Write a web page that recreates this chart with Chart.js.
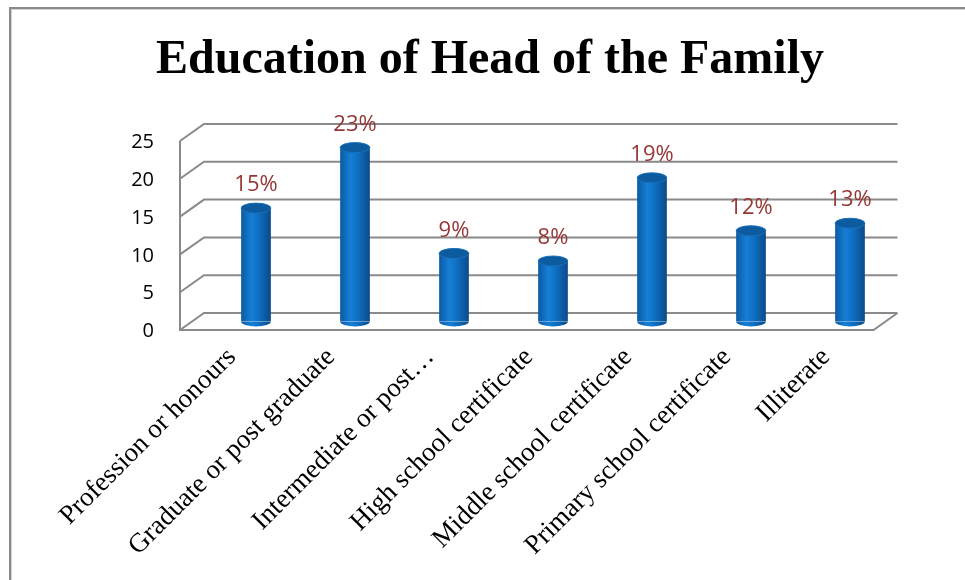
<!DOCTYPE html>
<html lang="en">
<head>
<meta charset="UTF-8">
<title>Education of Head of the Family</title>
<script src="https://cdn.jsdelivr.net/npm/chart.js"></script>
<style>
  body { margin: 0; background: #fff; }
  .wrap { position: relative; width: 965px; height: 580px; overflow: hidden; }
  .frame { position: absolute; left: 9px; top: 7px; width: 1000px; height: 620px;
           border: 2px solid #8a8a8a; box-shadow: inset 1px 1px 0 #d4d4d4; }
  canvas { position: absolute; left: 0; top: 0; }
</style>
</head>
<body>
<div class="wrap">
  <div class="frame"></div>
  <canvas id="eduChart" width="965" height="580"></canvas>
</div>
<script>
const categories = [
  'Profession or honours',
  'Graduate or post graduate',
  'Intermediate or post…',
  'High school certificate',
  'Middle school certificate',
  'Primary school certificate',
  'Illiterate'
];
const shares = [15, 23, 9, 8, 19, 12, 13];
const yMax = 25;
const yStep = 5;

// depth of the 3d box, half on each side of the bar plane
const DX = 12, DY = 8.5;
const BAR_PCT = 0.3;
const GRID = '#8a8a8a';

function cylinderFill(c) {
  const chart = c.chart;
  const a = chart.chartArea;
  if (!a) return '#0b6cbf';
  const cx = chart.scales.x.getPixelForValue(c.dataIndex);
  const w = (a.right - a.left) / categories.length * BAR_PCT;
  const g = chart.ctx.createLinearGradient(cx - w / 2, 0, cx + w / 2, 0);
  g.addColorStop(0, '#0b5aa3');
  g.addColorStop(0.35, '#157fd6');
  g.addColorStop(0.6, '#0e6fc2');
  g.addColorStop(1, '#0a4a88');
  return g;
}

const box3d = {
  id: 'box3d',
  beforeDatasetsDraw(chart) {
    const { ctx, chartArea: a, scales: { y } } = chart;
    const fl = a.left - 26.5, bl = fl + 2 * DX;
    const br = a.right - 2, fr = br - 2 * DX;
    const front = v => y.getPixelForValue(v) + DY;
    const back = v => y.getPixelForValue(v) - DY;
    ctx.save();
    ctx.strokeStyle = GRID;
    ctx.lineWidth = 2;
    ctx.beginPath();
    y.ticks.forEach(t => {
      ctx.moveTo(fl, front(t.value));
      ctx.lineTo(bl, back(t.value));
      ctx.lineTo(br, back(t.value));
    });
    ctx.moveTo(fl, front(yMax));
    ctx.lineTo(fl, front(0));
    ctx.lineTo(fr, front(0));
    ctx.lineTo(br, back(0));
    ctx.stroke();
    ctx.restore();
  },
  afterDatasetsDraw(chart) {
    const { ctx } = chart;
    const meta = chart.getDatasetMeta(0);
    ctx.save();
    meta.data.forEach((el, i) => {
      const { x, y, base, width } = el.getProps(['x', 'y', 'base', 'width'], true);
      const rx = width / 2, ry = 5;
      // rounded foot
      ctx.beginPath();
      ctx.ellipse(x, base, rx, ry, 0, 0, Math.PI);
      ctx.fillStyle = el.options.backgroundColor;
      ctx.fill();
      // top cap
      ctx.beginPath();
      ctx.ellipse(x, y, rx, ry, 0, 0, Math.PI * 2);
      ctx.fillStyle = '#0c5b9f';
      ctx.fill();
      ctx.strokeStyle = '#1a6fb8';
      ctx.lineWidth = 1;
      ctx.stroke();
      // value label
      ctx.fillStyle = '#953735';
      ctx.font = '22px "Open Sans"';
      ctx.textAlign = 'center';
      ctx.textBaseline = 'middle';
      ctx.fillText(shares[i] + '%', x, y - 23);
    });
    ctx.restore();
  }
};

new Chart(document.getElementById('eduChart'), {
  type: 'bar',
  data: {
    labels: categories,
    datasets: [{
      data: shares,
      backgroundColor: cylinderFill,
      borderWidth: 0,
      barPercentage: BAR_PCT,
      categoryPercentage: 1
    }]
  },
  options: {
    responsive: false,
    animation: false,
    layout: { padding: { left: 80.5, right: 65.5, top: 0, bottom: 0 } },
    plugins: {
      legend: { display: false },
      tooltip: { enabled: false },
      title: {
        display: true,
        text: 'Education of Head of the Family',
        color: '#000',
        font: { family: '"Liberation Serif"', size: 48, weight: 'bold', lineHeight: 1.2 },
        padding: { top: 32, bottom: 42.9 }
      }
    },
    scales: {
      x: {
        grid: { display: false, drawTicks: false },
        border: { display: false },
        ticks: {
          color: '#000',
          font: { family: '"Liberation Serif"', size: 27 },
          minRotation: 45,
          maxRotation: 45,
          autoSkip: false,
          labelOffset: -24,
          padding: 20
        },
        afterFit(s) { s.height = 258.5; }
      },
      y: {
        min: 0,
        max: yMax,
        grid: { display: false, drawTicks: false },
        border: { display: false },
        ticks: {
          stepSize: yStep,
          color: '#000',
          font: { family: '"Open Sans"', size: 20 },
          padding: 52.5,
          labelOffset: 10
        },
        afterFit(s) { s.width = 126; }
      }
    }
  },
  plugins: [box3d]
});
</script>
</body>
</html>
